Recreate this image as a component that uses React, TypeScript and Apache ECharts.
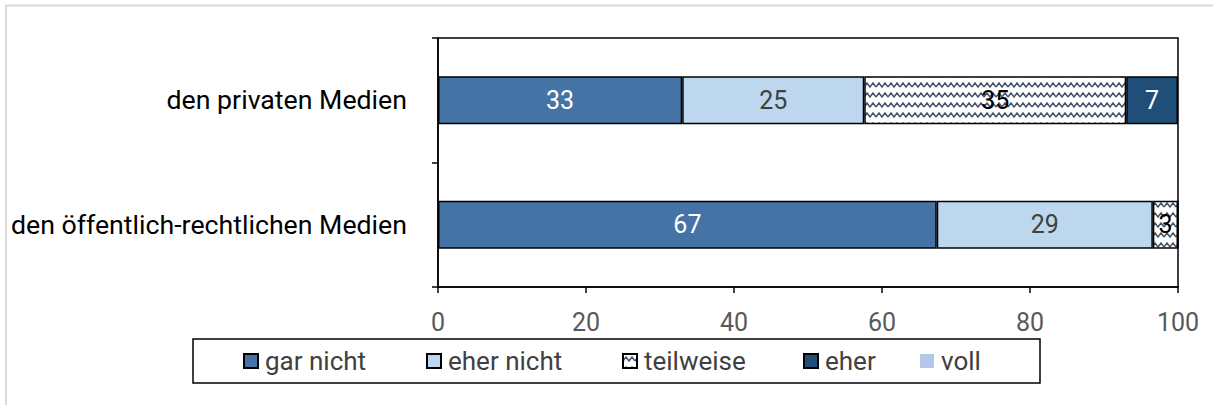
import React, { useEffect, useRef } from "react";
import * as echarts from "echarts";

const categories = ["den privaten Medien", "den öffentlich-rechtlichen Medien"];
const seriesNames = ["gar nicht", "eher nicht", "teilweise", "eher", "voll"];
const garNicht = [33.0, 67.4];
const eherNicht = [24.6, 29.2];
const teilweise = [35.4, 3.4];
const eher = [7.0, 0];
const voll = [0, 0];
const xTicks = { min: 0, max: 100, interval: 20 };
const legendLefts = [243, 426, 622, 803, 920];

function makeWavePattern(): HTMLCanvasElement {
  const c = document.createElement("canvas");
  c.width = 12;
  c.height = 10;
  const ctx = c.getContext("2d")!;
  ctx.fillStyle = "#ffffff";
  ctx.fillRect(0, 0, 12, 10);
  ctx.strokeStyle = "#44546a";
  ctx.lineWidth = 1.5;
  ctx.beginPath();
  ctx.moveTo(0, 7);
  ctx.lineTo(3, 3);
  ctx.lineTo(6, 7);
  ctx.lineTo(9, 3);
  ctx.lineTo(12, 7);
  ctx.stroke();
  return c;
}

export default function App() {
  const ref = useRef<HTMLDivElement>(null);
  useEffect(() => {
    if (!ref.current) return;
    const chart = echarts.init(ref.current, undefined, { renderer: "svg" });
    const pattern = { image: makeWavePattern(), repeat: "repeat" };
    const dataSets = [garNicht, eherNicht, teilweise, eher, voll];
    const colors: any[] = ["#4673a6", "#bdd7ee", pattern, "#1f4e79", "#b4c7e7"];
    const labelColors = ["#ffffff", "#404040", "#000000", "#ffffff", "#000000"];
    const font = "Roboto, 'Liberation Sans', sans-serif";
    const option: any = {
      animation: false,
      textStyle: { fontFamily: font },
      graphic: [
        {
          type: "rect",
          shape: { x: 6, y: 5.5, width: 1400, height: 600 },
          style: { fill: "none", stroke: "#d9d9d9", lineWidth: 2 },
          silent: true,
        },
        {
          type: "rect",
          shape: { x: 193, y: 339, width: 847, height: 44 },
          style: { fill: "none", stroke: "#000", lineWidth: 1.5 },
          silent: true,
        },
      ],
      grid: {
        left: 438,
        right: 35,
        top: 38,
        bottom: 118,
        show: true,
        borderColor: "#000",
        borderWidth: 1.5,
        backgroundColor: "transparent",
      },
      legend: seriesNames.map((name, i) => ({
        data: [name],
        icon: "rect",
        left: legendLefts[i],
        top: 348,
        padding: 0,
        itemWidth: 14,
        itemHeight: 14,
        textStyle: { fontSize: 26, color: "#404040", fontFamily: font, padding: [0, 0, 0, 2] },
      })),
      xAxis: {
        type: "value",
        min: xTicks.min,
        max: xTicks.max,
        interval: xTicks.interval,
        splitLine: { show: false },
        axisLine: { show: true, lineStyle: { color: "#000", width: 1.5 } },
        axisTick: { show: true, length: 6, lineStyle: { color: "#000", width: 1.5 } },
        axisLabel: { fontSize: 25, color: "#595959", margin: 23, fontFamily: font },
      },
      yAxis: {
        type: "category",
        data: categories,
        inverse: true,
        axisLine: { show: true, lineStyle: { color: "#000", width: 1.5 } },
        axisTick: { show: true, length: 6, lineStyle: { color: "#000", width: 1.5 } },
        axisLabel: { fontSize: 26.7, color: "#000", margin: 31, fontFamily: font },
      },
      series: seriesNames.map((name, i) => ({
        name,
        type: "bar",
        stack: "total",
        barWidth: 48,
        data: dataSets[i],
        itemStyle: {
          color: colors[i],
          borderColor: i === 4 ? undefined : "#000",
          borderWidth: i === 4 ? 0 : 1.5,
        },
        label: {
          show: true,
          position: "inside",
          fontSize: 25,
          fontFamily: font,
          color: labelColors[i],
          formatter: (p: any) => (p.value < 0.5 ? "" : String(Math.round(p.value))),
        },
      })),
    };
    chart.setOption(option);
    return () => chart.dispose();
  }, []);
  return (
    <div
      ref={ref}
      style={{ position: "fixed", left: 0, top: 0, width: 1213, height: 405, background: "#fff" }}
    />
  );
}
